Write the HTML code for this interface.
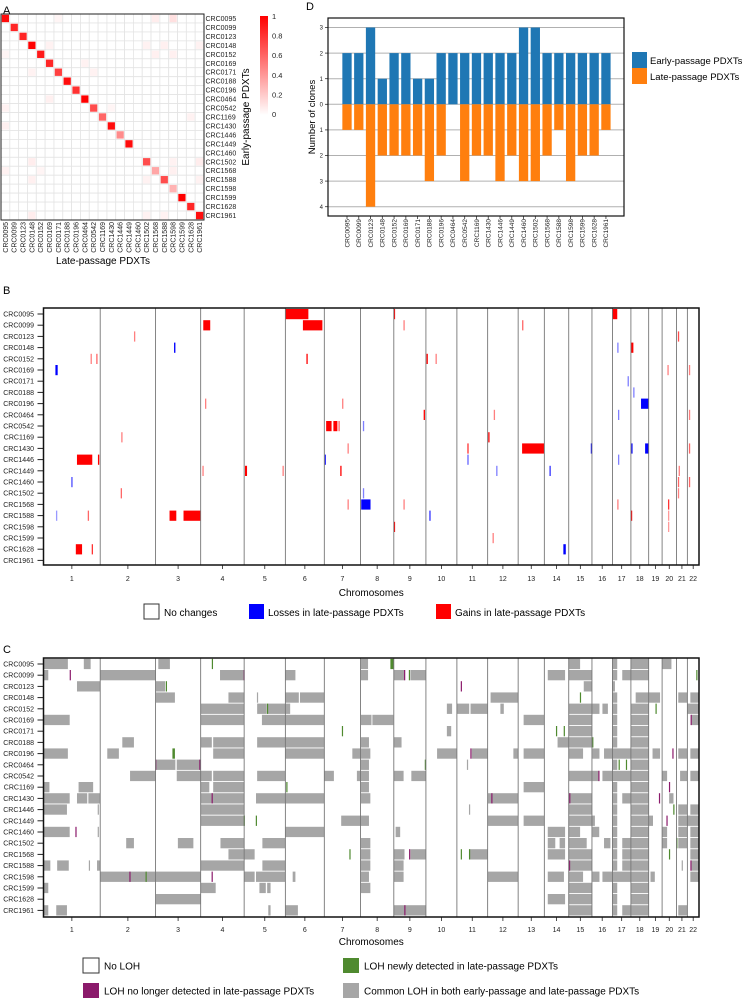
<!DOCTYPE html>
<html><head><meta charset="utf-8">
<style>
html,body{margin:0;padding:0;background:#fff;}
svg{display:block;font-family:"Liberation Sans",sans-serif;}
</style></head>
<body>
<svg id="fig" width="752" height="999" viewBox="0 0 752 999" xmlns="http://www.w3.org/2000/svg">
<defs>
<linearGradient id="cbar" x1="0" y1="1" x2="0" y2="0">
<stop offset="0" stop-color="#ffffff"/><stop offset="1" stop-color="#ff0000"/>
</linearGradient>
</defs>
<text x="3" y="14" font-size="11">A</text>
<text x="306" y="10" font-size="11">D</text>
<text x="3" y="294" font-size="11">B</text>
<text x="3" y="653" font-size="11">C</text>
<g id="pa"></g>
<g id="pd"></g>
<g id="pb"></g>
<g id="pc"></g>
</svg>
<script>
const samples=["CRC0095","CRC0099","CRC0123","CRC0148","CRC0152","CRC0169","CRC0171","CRC0188","CRC0196","CRC0464","CRC0542","CRC1169","CRC1430","CRC1446","CRC1449","CRC1460","CRC1502","CRC1568","CRC1588","CRC1598","CRC1599","CRC1628","CRC1961"];
// Panel A: diagonal similarity and off-diagonal faint values [row,col,value]
const diagValues=[0.95,0.85,0.85,1,0.9,0.85,0.75,0.95,0.8,1,0.7,0.6,0.95,0.45,0.95,0,0.7,0.35,0.7,0.3,1,0.85,0.95];
const offDiag=[[0,6,0.04],[0,17,0.07],[0,19,0.12],[3,5,0.05],[3,16,0.05],[3,18,0.06],[3,22,0.05],[4,0,0.04],[4,17,0.06],[4,19,0.06],[5,9,0.05],[6,3,0.05],[6,10,0.05],[9,5,0.06],[10,0,0.05],[10,12,0.04],[11,21,0.05],[12,0,0.06],[16,3,0.07],[16,19,0.05],[16,22,0.07],[17,0,0.05],[17,4,0.04],[17,19,0.06],[18,3,0.06],[18,16,0.05],[18,22,0.05],[22,3,0.07],[22,16,0.05],[22,18,0.05]];
const cbarTicks=[1,0.8,0.6,0.4,0.2,0];
// Panel D
const earlyClones=[2,2,3,1,2,2,1,1,2,2,2,2,2,2,2,3,3,2,2,2,2,2,2];
const lateClones=[1,1,4,2,2,2,2,3,2,0,3,2,2,3,2,3,3,2,1,3,2,2,1];
const dTicks=[3,2,1,0,-1,-2,-3,-4];
// Chromosomes (Mb)
const chrNames=["1","2","3","4","5","6","7","8","9","10","11","12","13","14","15","16","17","18","19","20","21","22"];
const chrLen=[249,243,198,191,181,171,159,146,141,136,135,134,115,107,102,90,81,78,59,63,48,51];
// Panel B segments: [sampleIndex, chrIndex, startFrac, endFrac, type(l/g), strength]
const cnvSegs=[
[0,5,0,0.59,"g",1],[0,8,0,0.01,"g",1],[0,16,0,0.26,"g",1],
[1,3,0.06,0.22,"g",1],[1,5,0.45,0.95,"g",1],[1,8,0.3,0.31,"g",0.5],[1,12,0.15,0.16,"g",0.6],
[2,1,0.61,0.62,"g",0.5],[2,20,0.13,0.14,"g",0.7],
[3,2,0.41,0.44,"l",1],[3,16,0.26,0.27,"l",0.5],[3,17,0,0.14,"g",1],
[4,0,0.83,0.84,"g",0.5],[4,0,0.93,0.94,"g",0.6],[4,5,0.54,0.57,"g",1],[4,9,0.02,0.05,"g",1],[4,9,0.31,0.32,"g",0.5],
[5,0,0.21,0.25,"l",1],[5,19,0.37,0.41,"g",0.5],[5,21,0.13,0.15,"g",0.5],
[6,16,0.82,0.83,"l",0.5],
[7,17,0.13,0.15,"l",0.5],
[8,3,0.1,0.11,"g",0.5],[8,6,0.49,0.5,"g",0.5],[8,17,0.57,1,"l",1],
[9,8,0.93,0.97,"g",1],[9,11,0.2,0.21,"g",0.5],[9,16,0.3,0.31,"l",0.5],[9,21,0.13,0.15,"g",0.5],
[10,6,0.05,0.2,"g",1],[10,6,0.25,0.36,"g",1],[10,6,0.39,0.4,"g",0.6],[10,7,0.07,0.08,"l",0.5],
[11,1,0.38,0.39,"g",0.5],[11,11,0.02,0.05,"g",1],
[12,6,0.64,0.65,"g",0.5],[12,10,0.34,0.37,"g",0.8],[12,12,0.15,1,"g",1],[12,14,0.95,1,"l",1],[12,17,0.02,0.07,"l",1],[12,17,0.8,1,"l",1],[12,21,0.13,0.15,"g",0.6],
[13,0,0.59,0.86,"g",1],[13,0,0.96,0.98,"g",1],[13,6,0.01,0.02,"l",0.8],[13,10,0.34,0.36,"l",0.6],[13,16,0.3,0.31,"l",0.5],
[14,3,0.04,0.05,"g",0.5],[14,4,0.02,0.07,"g",1],[14,4,0.93,0.94,"g",0.5],[14,6,0.44,0.47,"g",1],[14,11,0.28,0.29,"l",0.5],[14,13,0.21,0.24,"l",0.8],[14,20,0.2,0.21,"g",0.5],
[15,0,0.49,0.5,"l",0.7],[15,20,0.13,0.15,"g",0.6],[15,21,0.13,0.15,"g",0.6],
[16,1,0.37,0.38,"g",0.6],[16,7,0.07,0.08,"l",0.5],[16,20,0.13,0.14,"g",0.5],
[17,6,0.64,0.65,"g",0.5],[17,7,0.02,0.3,"l",1],[17,8,0.3,0.31,"g",0.5],[17,16,0.26,0.27,"g",0.5],[17,19,0.41,0.46,"g",0.8],
[18,0,0.22,0.23,"l",0.4],[18,0,0.78,0.79,"g",0.6],[18,2,0.31,0.46,"g",1],[18,2,0.62,1,"g",1],[18,9,0.11,0.13,"l",0.8],[18,17,0,0.05,"g",1],[18,19,0.41,0.43,"g",0.4],
[19,8,0,0.02,"g",1],[19,19,0.41,0.43,"g",0.4],
[20,11,0.16,0.18,"g",0.5],
[21,0,0.57,0.68,"g",1],[21,0,0.85,0.86,"g",0.8],[21,13,0.78,0.88,"l",1]
];
// Panel C segments: [sampleIndex, startMb, endMb, type(c=common, n=new, p=lost)]
const lohSegs=[
[0,0,107,"c"],[0,177,207,"c"],[0,504,555,"c"],[0,739,741,"n"],[0,1392,1425,"c"],[0,1523,1538,"n"],[0,2306,2356,"c"],[0,2498,2519,"c"],[0,2579,2657,"c"],[0,2716,2757,"c"],
[1,0,21,"c"],[1,115,117,"p"],[1,249,492,"c"],[1,775,881,"c"],[1,878,881,"p"],[1,1062,1106,"c"],[1,1392,1425,"c"],[1,1538,1585,"c"],[1,1583,1586,"p"],[1,1604,1608,"n"],[1,1611,1679,"c"],[1,2214,2290,"c"],[1,2306,2408,"c"],[1,2498,2519,"c"],[1,2541,2657,"c"],[1,2866,2870,"n"],
[2,147,249,"c"],[2,492,534,"c"],[2,537,540,"n"],[2,1832,1834,"p"],[2,2372,2408,"c"],[2,2498,2509,"c"],
[3,492,577,"c"],[3,812,881,"c"],[3,937,939,"c"],[3,1062,1121,"c"],[3,1126,1233,"c"],[3,1963,2084,"c"],[3,2355,2357,"n"],[3,2498,2519,"c"],[3,2600,2707,"c"],[3,2787,2827,"c"],[3,2840,2878,"c"],
[4,690,881,"c"],[4,938,980,"c"],[4,981,984,"n"],[4,985,1083,"c"],[4,1771,1794,"c"],[4,1815,1869,"c"],[4,1875,1950,"c"],[4,2006,2021,"c"],[4,2306,2441,"c"],[4,2454,2478,"c"],[4,2498,2519,"c"],[4,2579,2657,"c"],[4,2687,2689,"n"],[4,2827,2878,"c"],
[5,0,115,"c"],[5,690,881,"c"],[5,959,1233,"c"],[5,1392,1440,"c"],[5,1444,1536,"c"],[5,2108,2199,"c"],[5,2306,2408,"c"],[5,2498,2519,"c"],[5,2579,2657,"c"],[5,2841,2843,"p"],[5,2843,2878,"c"],
[6,1310,1312,"n"],[6,1771,1790,"c"],[6,2250,2252,"n"],[6,2284,2286,"n"],[6,2306,2408,"c"],[6,2498,2519,"c"],[6,2579,2657,"c"],
[7,346,397,"c"],[7,690,739,"c"],[7,745,881,"c"],[7,938,1233,"c"],[7,1392,1429,"c"],[7,1538,1572,"c"],[7,2257,2408,"c"],[7,2409,2412,"n"],[7,2498,2519,"c"],[7,2579,2657,"c"],
[8,0,107,"c"],[8,280,331,"c"],[8,566,577,"n"],[8,745,881,"c"],[8,1062,1233,"c"],[8,1356,1435,"c"],[8,1728,1815,"c"],[8,1874,1876,"p"],[8,1880,1950,"c"],[8,2063,2084,"c"],[8,2108,2199,"c"],[8,2306,2369,"c"],[8,2410,2441,"c"],[8,2461,2657,"c"],[8,2674,2707,"c"],[8,2761,2763,"p"],[8,2787,2827,"c"],[8,2840,2878,"c"],
[9,492,579,"c"],[9,490,493,"p"],[9,585,686,"c"],[9,684,688,"p"],[9,1392,1429,"c"],[9,1674,1676,"n"],[9,1859,1861,"c"],[9,2498,2519,"c"],[9,2525,2527,"n"],[9,2557,2559,"n"],[9,2579,2657,"c"],
[10,380,492,"c"],[10,585,739,"c"],[10,745,881,"c"],[10,938,1062,"c"],[10,1233,1275,"c"],[10,1376,1429,"c"],[10,1538,1581,"c"],[10,1615,1679,"c"],[10,2306,2441,"c"],[10,2436,2438,"p"],[10,2454,2657,"c"],[10,2716,2738,"c"],[10,2795,2827,"c"],[10,2840,2878,"c"],
[11,0,26,"c"],[11,154,218,"c"],[11,690,728,"c"],[11,745,881,"c"],[11,1066,1070,"n"],[11,1392,1429,"c"],[11,2108,2199,"c"],[11,2498,2519,"c"],[11,2579,2657,"c"],[11,2746,2748,"p"],
[12,0,115,"c"],[12,147,192,"c"],[12,197,249,"c"],[12,690,881,"c"],[12,738,740,"p"],[12,933,1233,"c"],[12,1392,1435,"c"],[12,1950,2084,"c"],[12,1966,1968,"p"],[12,2306,2408,"c"],[12,2308,2310,"p"],[12,2498,2519,"c"],[12,2541,2657,"c"],[12,2702,2704,"p"],[12,2747,2766,"c"],
[13,0,103,"c"],[13,238,240,"c"],[13,690,881,"c"],[13,1868,1870,"c"],[13,2306,2408,"c"],[13,2498,2519,"c"],[13,2579,2657,"c"],[13,2765,2767,"n"],[13,2787,2827,"c"],[13,2840,2878,"c"],
[14,690,881,"c"],[14,879,881,"n"],[14,932,934,"n"],[14,1307,1429,"c"],[14,1950,2084,"c"],[14,2108,2199,"c"],[14,2306,2421,"c"],[14,2498,2519,"c"],[14,2579,2676,"c"],[14,2735,2737,"p"],[14,2787,2878,"c"],
[15,0,115,"c"],[15,140,142,"p"],[15,238,240,"c"],[15,1062,1233,"c"],[15,1546,1566,"c"],[15,2214,2290,"c"],[15,2306,2356,"c"],[15,2410,2440,"c"],[15,2498,2519,"c"],[15,2579,2657,"c"],[15,2716,2738,"c"],[15,2787,2827,"c"],[15,2840,2878,"c"],
[16,363,397,"c"],[16,590,658,"c"],[16,777,881,"c"],[16,961,1062,"c"],[16,1392,1435,"c"],[16,2214,2247,"c"],[16,2266,2290,"c"],[16,2306,2385,"c"],[16,2461,2489,"c"],[16,2498,2519,"c"],[16,2541,2657,"c"],[16,2716,2738,"c"],[16,2778,2781,"n"],[16,2787,2827,"c"],[16,2840,2878,"c"],
[17,812,927,"c"],[17,1343,1345,"n"],[17,1392,1435,"c"],[17,1538,1585,"c"],[17,1605,1607,"p"],[17,1611,1679,"c"],[17,1832,1834,"n"],[17,1868,1870,"n"],[17,1870,1950,"c"],[17,2214,2290,"c"],[17,2306,2408,"c"],[17,2498,2519,"c"],[17,2541,2657,"c"],[17,2746,2748,"n"],[17,2840,2878,"c"],
[18,0,30,"c"],[18,60,111,"c"],[18,199,201,"c"],[18,235,249,"c"],[18,690,881,"c"],[18,961,1062,"c"],[18,1392,1435,"c"],[18,1538,1581,"c"],[18,2306,2408,"c"],[18,2307,2309,"p"],[18,2498,2519,"c"],[18,2541,2657,"c"],[18,2802,2804,"c"],[18,2840,2842,"p"],[18,2842,2878,"c"],
[19,249,690,"c"],[19,377,379,"p"],[19,448,450,"n"],[19,738,740,"p"],[19,881,927,"c"],[19,933,1062,"c"],[19,1094,1106,"c"],[19,1392,1429,"c"],[19,1538,1581,"c"],[19,1950,2084,"c"],[19,2214,2285,"c"],[19,2306,2369,"c"],[19,2410,2441,"c"],[19,2454,2657,"c"],[19,2665,2684,"c"],[19,2840,2878,"c"],
[20,0,21,"c"],[20,690,756,"c"],[20,948,976,"c"],[20,982,997,"c"],[20,1392,1435,"c"],[20,2306,2408,"c"],[20,2498,2519,"c"],[20,2579,2657,"c"],
[21,492,690,"c"],[21,2214,2290,"c"],[21,2306,2408,"c"],[21,2498,2519,"c"],[21,2579,2657,"c"],
[22,0,21,"c"],[22,56,103,"c"],[22,987,997,"c"],[22,1062,1117,"c"],[22,1538,1679,"c"],[22,1584,1586,"p"],[22,2306,2408,"c"],[22,2498,2519,"c"],[22,2541,2657,"c"],[22,2787,2827,"c"]
];

const NS="http://www.w3.org/2000/svg";
function el(tag,attrs,parent){const e=document.createElementNS(NS,tag);for(const k in attrs)e.setAttribute(k,attrs[k]);parent.appendChild(e);return e;}
function txt(s,attrs,parent){const e=el("text",attrs,parent);e.textContent=s;return e;}

/* ---------- Panel A ---------- */
(function(){
const g=document.getElementById("pa");
const x0=1,y0=14,cw=(204-1)/23,ch=(220-14)/23;
for(let r=0;r<23;r++)for(let c=0;c<23;c++){
  const cell=el("rect",{x:x0+c*cw,y:y0+r*ch,width:cw,height:ch,fill:"#fff",stroke:"#e4e4e4","stroke-width":0.8},g);
  
  
}
function redCol(v){const k=Math.round(255*(1-v));return "rgb(255,"+k+","+k+")";}
diagValues.forEach((v,i)=>{if(v<=0)return;
  const m=el("rect",{x:x0+i*cw+0.8,y:y0+i*ch+0.8,width:cw-1.6,height:ch-1.6,fill:redCol(v)},g);
  
  
});
offDiag.forEach(d=>{
  const m=el("rect",{x:x0+d[1]*cw+0.8,y:y0+d[0]*ch+0.8,width:cw-1.6,height:ch-1.6,fill:redCol(d[2])},g);
  
  
});
const fr=el("rect",{x:x0,y:y0,width:23*cw,height:23*ch,fill:"none",stroke:"#222","stroke-width":1},g);


samples.forEach((s,i)=>{
  const t=txt(s,{x:205.5,y:y0+i*ch+ch/2+2.5,"font-size":7,fill:"#222"},g);
  
  
  const cx=x0+i*cw+cw/2+2.5;
  const t2=txt(s,{x:cx,y:222,"font-size":7,fill:"#222","text-anchor":"end",transform:"rotate(-90 "+cx+" 222)"},g);
  
  
});
const yl=txt("Early-passage PDXTs",{x:249,y:117,"font-size":10,"text-anchor":"middle",transform:"rotate(-90 249 117)"},g);


const xl=txt("Late-passage PDXTs",{x:103,y:264,"font-size":10,"text-anchor":"middle"},g);


const cb=el("rect",{x:260,y:16,width:8,height:99,fill:"url(#cbar)"},g);


cbarTicks.forEach(v=>{
  const t=txt(String(v),{x:272,y:16+(1-v)*98+3,"font-size":7.5,fill:"#222"},g);
  
  
});
})();

/* ---------- Panel D ---------- */
(function(){
const g=document.getElementById("pd");
const L=328,R=624,T=18,B=216;
const yv=v=>104.3-v*25.6;
const xb=i=>347+i*11.77;
el("rect",{x:L,y:T,width:R-L,height:B-T,fill:"#fff"},g);
dTicks.forEach(v=>{
  const gl=el("line",{x1:L,x2:R,y1:yv(v),y2:yv(v),stroke:"#b0b0b0","stroke-width":1},g);
  
  
  el("line",{x1:L-3,x2:L,y1:yv(v),y2:yv(v),stroke:"#333","stroke-width":0.8},g);
  const t=txt(String(Math.abs(v)),{x:L-5,y:yv(v)+2.2,"font-size":6,"text-anchor":"end",fill:"#222"},g);
  
  
});
earlyClones.forEach((v,i)=>{
  const b=el("rect",{x:xb(i)-4.65,y:yv(v),width:9.3,height:yv(0)-yv(v),fill:"#1f77b4"},g);
  
  
});
lateClones.forEach((v,i)=>{
  const b=el("rect",{x:xb(i)-4.65,y:yv(0),width:9.3,height:yv(-v)-yv(0),fill:"#ff7f0e"},g);
  
  
});
samples.forEach((s,i)=>{
  el("line",{x1:xb(i),x2:xb(i),y1:B,y2:B+3,stroke:"#333","stroke-width":0.8},g);
  const cx=xb(i)+2.3;
  const t=txt(s,{x:cx,y:219,"font-size":6.5,"text-anchor":"end",fill:"#222",transform:"rotate(-90 "+cx+" 219)"},g);
  
  
});
const fr=el("rect",{x:L,y:T,width:R-L,height:B-T,fill:"none",stroke:"#111","stroke-width":1.2},g);


const yl=txt("Number of clones",{x:315,y:117,"font-size":9.5,"text-anchor":"middle",transform:"rotate(-90 315 117)"},g);


const l1=el("rect",{x:632,y:52,width:15,height:16,fill:"#1f77b4"},g);


const l2=el("rect",{x:632,y:68,width:15,height:16,fill:"#ff7f0e"},g);


const t1=txt("Early-passage PDXTs",{x:650,y:64,"font-size":9.5},g);


const t2=txt("Late-passage PDXTs",{x:650,y:80,"font-size":9.5},g);


})();

/* ---------- Genome maps ---------- */
const chrStart=[];let acc=0;chrLen.forEach(l=>{chrStart.push(acc);acc+=l;});
const genomeTotal=acc;
const GL=43.5,GR=699;
const gx=mb=>GL+mb/genomeTotal*(GR-GL);

function drawAxes(g,T,B,step,tickLabelY,titleY,prefix){
  samples.forEach((s,i)=>{
    const y=T+6+i*step;
    el("line",{x1:GL-6,x2:GL,y1:y,y2:y,stroke:"#222","stroke-width":1},g);
    const t=txt(s,{x:34,y:y+2.5,"font-size":7,"text-anchor":"end",fill:"#222"},g);
    
    
  });
  chrLen.forEach((l,c)=>{
    if(c>0){
      const bl=el("line",{x1:gx(chrStart[c]),x2:gx(chrStart[c]),y1:T,y2:B,stroke:"#777","stroke-width":0.9},g);
      
      
    }
    const mx=gx(chrStart[c]+l/2);
    el("line",{x1:mx,x2:mx,y1:B,y2:B+4,stroke:"#222","stroke-width":0.8},g);
    const t=txt(chrNames[c],{x:mx,y:tickLabelY,"font-size":7,"text-anchor":"middle",fill:"#222"},g);
    
    
  });
  const fr=el("rect",{x:GL,y:T,width:GR-GL,height:B-T,fill:"none",stroke:"#111","stroke-width":1.5},g);
  
  
  const xt=txt("Chromosomes",{x:(GL+GR)/2,y:titleY,"font-size":10,"text-anchor":"middle"},g);
  
  
}

/* Panel B */
(function(){
const g=document.getElementById("pb");
const T=308,B=565,step=11.2;
el("rect",{x:GL,y:T,width:GR-GL,height:B-T,fill:"#fff"},g);
cnvSegs.forEach(s=>{
  const a=gx(chrStart[s[1]]+s[2]*chrLen[s[1]]), b=gx(chrStart[s[1]]+s[3]*chrLen[s[1]]);
  const w=Math.max(b-a,1.3);
  const col=s[4]==="g"?"#ff0000":"#0000ff";
  const r=el("rect",{x:a,y:T+1+s[0]*step,width:w,height:step-1,fill:col,"fill-opacity":s[5]},g);
  
  
});
drawAxes(g,T,B,step,581,596,"cnv");
const items=[["No changes","#fff",144,164],["Losses in late-passage PDXTs","#0000ff",249,268],["Gains in late-passage PDXTs","#ff0000",436,455]];
items.forEach(it=>{
  const r=el("rect",{x:it[2],y:604,width:15,height:15,fill:it[1],stroke:it[1]==="#fff"?"#333":"none","stroke-width":1},g);
  
  
  const t=txt(it[0],{x:it[3],y:616,"font-size":10},g);
  
  
});
})();

/* Panel C */
(function(){
const g=document.getElementById("pc");
const T=658,B=917,step=11.2;
el("rect",{x:GL,y:T,width:GR-GL,height:B-T,fill:"#fff"},g);
const colors={c:"#a6a6a6",n:"#4f8a2f",p:"#8b1a6b"};
["c","n","p"].forEach(type=>{
  lohSegs.filter(s=>s[3]===type).forEach(s=>{
    const a=gx(s[1]),b=gx(s[2]);
    const w=Math.max(b-a,1.2);
    const r=el("rect",{x:a,y:T+0.8+s[0]*step,width:w,height:step-0.9,fill:colors[type]},g);
    
    
  });
});
drawAxes(g,T,B,step,932,945,"loh");
const items=[["No LOH","#fff",83,958,104],["LOH no longer detected in late-passage PDXTs","#8b1a6b",83,983,104],["LOH newly detected in late-passage PDXTs","#4f8a2f",343,958,364],["Common LOH in both early-passage and late-passage PDXTs","#a6a6a6",343,983,364]];
items.forEach(it=>{
  const r=el("rect",{x:it[2],y:it[3],width:16,height:15,fill:it[1],stroke:it[1]==="#fff"?"#333":"none","stroke-width":1},g);
  
  
  const t=txt(it[0],{x:it[4],y:it[3]+11.5,"font-size":10},g);
  
  
});
})();
</script>
</body></html>
